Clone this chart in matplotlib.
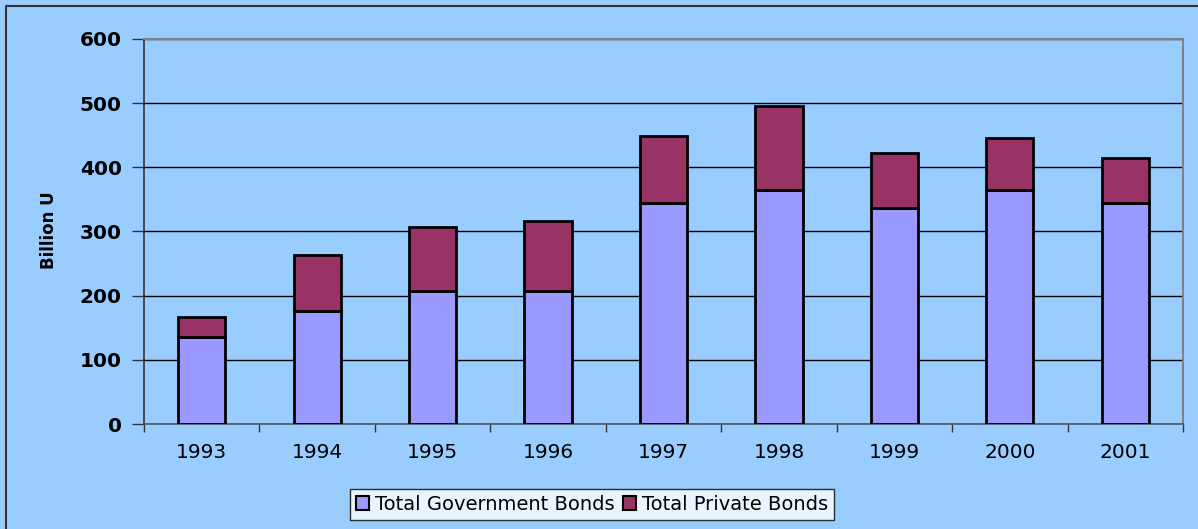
import matplotlib
matplotlib.use("Agg")
import matplotlib.pyplot as plt
from matplotlib.lines import Line2D
import numpy as np

plt.rcParams['font.family'] = ['DejaVu Sans']

years = ["1993", "1994", "1995", "1996", "1997", "1998", "1999", "2000", "2001"]
government = [135, 176, 208, 208, 345, 364, 337, 364, 345]
private = [31, 87, 99, 109, 104, 131, 85, 82, 69]
y_ticks = [0, 100, 200, 300, 400, 500, 600]

bg = "#99CCFF"
W, H = 1198, 529
fig = plt.figure(figsize=(W / 100, H / 100), dpi=100, facecolor=bg)

# plot area in pixel terms
left, right, top, bottom = 144, 1183, 39, 424
ax = fig.add_axes([left / W, 1 - bottom / H, (right - left) / W, (bottom - top) / H])
ax.set_facecolor(bg)

x = np.arange(len(years))
bw = 0.41
ax.bar(x, government, bw, color="#9999FF", edgecolor="black", linewidth=2,
       label="Total Government Bonds", zorder=3)
ax.bar(x, private, bw, bottom=government, color="#993366", edgecolor="black",
       linewidth=2, label="Total Private Bonds", zorder=3)

ax.set_xlim(-0.5, len(years) - 0.5)
ax.set_ylim(0, 600)
ax.set_yticks(y_ticks)
ax.set_yticklabels([str(v) for v in y_ticks], fontsize=14.5, fontweight="bold")
ax.yaxis.grid(True, color="black", linewidth=1, zorder=0)

# category labels centered, ticks between categories
ax.set_xticks(x)
ax.set_xticklabels(years, fontsize=14.5)
ax.tick_params(axis="x", length=0, pad=14)
ax.set_xticks(np.arange(-0.5, len(years)), minor=True)
ax.tick_params(axis="x", which="minor", length=6, width=1, color="#333333")
ax.tick_params(axis="y", length=9, width=1, color="#333333", pad=7)

for side in ("top", "right"):
    ax.spines[side].set_color("#808080")
    ax.spines[side].set_linewidth(1.5)
ax.spines["left"].set_color("#333333")
ax.spines["left"].set_linewidth(1.2)
ax.spines["bottom"].set_color("#555555")
ax.spines["bottom"].set_linewidth(1.2)

ax.set_ylabel("Billion U", fontsize=12, fontweight="bold")
ax.yaxis.set_label_coords((58 - left) / (right - left), (bottom - 230) / (bottom - top))

leg = fig.legend(loc="center", bbox_to_anchor=(592 / W, 1 - 504.5 / H), ncol=2,
                 frameon=True, fancybox=False, fontsize=14, handlelength=0.7,
                 handleheight=0.7, handletextpad=0.3, columnspacing=0.4,
                 borderpad=0.3, edgecolor="black", borderaxespad=0)
leg.get_frame().set_linewidth(1)
leg.get_frame().set_facecolor("white")
for p in leg.get_patches():
    p.set_linewidth(1.5)

# outer chart frame along left and top edges
fig.add_artist(Line2D([6 / W, 6 / W, 1.0], [0.0, 1 - 6 / H, 1 - 6 / H],
                      transform=fig.transFigure, color="#333333", linewidth=1.5))

fig.savefig("out.png", dpi=100, facecolor=bg)
